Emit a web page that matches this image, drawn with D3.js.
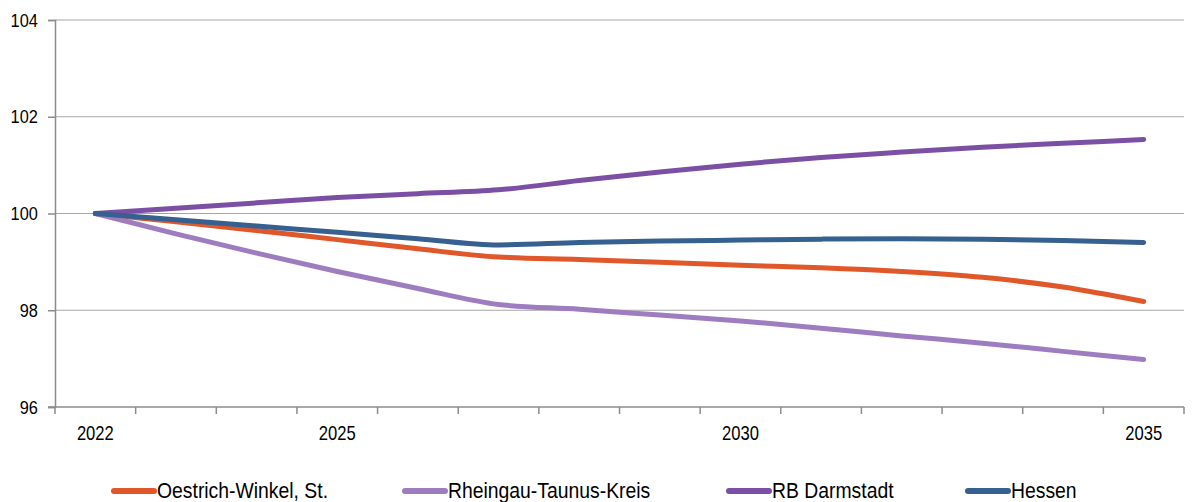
<!DOCTYPE html>
<html><head><meta charset="utf-8">
<script src="https://cdn.jsdelivr.net/npm/d3@7"></script>
<style>
body{margin:0;background:#fff;}
svg text{font-family:"Liberation Sans",Arial,sans-serif;fill:#000;}
</style></head><body>
<svg id="c" width="1193" height="502"></svg>
<script>
const years = [2022,2023,2024,2025,2026,2027,2028,2029,2030,2031,2032,2033,2034,2035];
const xTickLabels = ["2022","2025","2030","2035"];
const yTicks = [96,98,100,102,104];
const seriesNames = ["Oestrich-Winkel, St.","Rheingau-Taunus-Kreis","RB Darmstadt","Hessen"];
const oestrich = [100,99.83,99.65,99.46,99.27,99.10,99.05,98.99,98.93,98.88,98.80,98.68,98.48,98.18];
const rheingau = [100,99.58,99.18,98.80,98.45,98.12,98.02,97.90,97.78,97.63,97.47,97.32,97.15,96.98];
const rbDarmstadt = [100,100.11,100.22,100.33,100.41,100.49,100.68,100.86,101.02,101.16,101.27,101.37,101.45,101.53];
const hessen = [100,99.87,99.74,99.61,99.48,99.35,99.40,99.43,99.45,99.47,99.48,99.47,99.44,99.40];
const colors = ["#E0572A","#9E7CC0","#7B4FA3","#35608F"];

const data = [oestrich, rheingau, rbDarmstadt, hessen];
const svg = d3.select("#c");
const mLeft=55, mRight=1184, mTop=20, mBottom=407;

const x = d3.scaleBand().domain(years.map(String)).range([mLeft,mRight]);
const y = d3.scaleLinear().domain([96,104]).range([mBottom,mTop]);

// gridlines
svg.append("g").selectAll("line").data(yTicks.filter(t=>t>96)).join("line")
  .attr("x1",mLeft).attr("x2",mRight).attr("y1",d=>y(d)).attr("y2",d=>y(d))
  .attr("stroke","#a6a6a6").attr("stroke-width",1);

// y axis
const yAxis = svg.append("g").attr("transform",`translate(${mLeft},0)`)
  .call(d3.axisLeft(y).tickValues(yTicks).tickSize(7).tickPadding(13).tickFormat(d3.format("d")));
yAxis.select(".domain").attr("stroke","#8c8c8c").attr("stroke-width",1.5);
yAxis.selectAll(".tick line").attr("stroke","#8c8c8c").attr("stroke-width",1.5);
yAxis.selectAll("text").attr("font-size",19).attr("font-family",null)
  .attr("transform","scale(0.86,1)");

// x axis with ticks between categories
const xAxisG = svg.append("g").attr("transform",`translate(0,${mBottom})`);
xAxisG.append("line").attr("x1",mLeft-7).attr("x2",mRight).attr("y1",0).attr("y2",0)
  .attr("stroke","#8c8c8c").attr("stroke-width",1.5);
const bounds = years.map(yr=>x(String(yr))).concat([mRight]);
xAxisG.selectAll("line.tk").data(bounds).join("line").attr("class","tk")
  .attr("x1",d=>d).attr("x2",d=>d).attr("y1",0).attr("y2",7)
  .attr("stroke","#8c8c8c").attr("stroke-width",1.5);
xAxisG.selectAll("text").data(xTickLabels).join("text")
  .attr("transform",d=>`translate(${x(d)+x.bandwidth()/2},33) scale(0.83,1)`)
  .attr("text-anchor","middle").attr("font-size",20).text(d=>d);

// lines
const line = d3.line()
  .x((d,i)=>x(String(years[i]))+x.bandwidth()/2)
  .y(d=>y(d))
  .curve(d3.curveMonotoneX);
svg.append("g").selectAll("path").data(data).join("path")
  .attr("d",d=>line(d)).attr("fill","none")
  .attr("stroke",(d,i)=>colors[i]).attr("stroke-width",5)
  .attr("stroke-linecap","round").attr("stroke-linejoin","round");

// legend
const legX = [114,405,729,968];
const lg = svg.append("g").selectAll("g").data(seriesNames).join("g")
  .attr("transform",(d,i)=>`translate(${legX[i]},491)`);
lg.append("line").attr("x1",0).attr("x2",40).attr("y1",0).attr("y2",0)
  .attr("stroke",(d,i)=>colors[i]).attr("stroke-width",6).attr("stroke-linecap","round");
lg.append("text").attr("transform","translate(43,7) scale(0.88,1)").attr("font-size",22).text(d=>d);
</script></body></html>
